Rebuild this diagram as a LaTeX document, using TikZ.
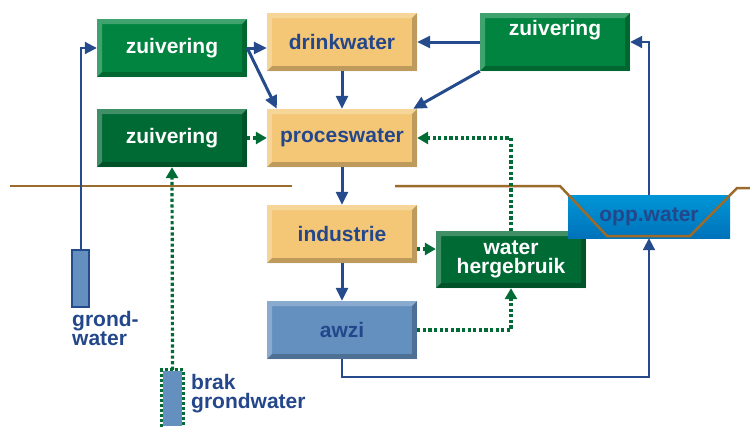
\documentclass[tikz,border=0pt]{standalone}
\usepackage{fontspec}
\setmainfont{Liberation Sans}
\usetikzlibrary{arrows.meta,calc}
\definecolor{txtblue}{HTML}{23478A}
\definecolor{lineblue}{HTML}{254B8C}
\definecolor{greenA}{HTML}{00843F}
\definecolor{greenB}{HTML}{006A35}
\definecolor{beige}{HTML}{F4C777}
\definecolor{awziblue}{HTML}{6490C0}
\definecolor{dotgreen}{HTML}{006B35}
\definecolor{soil}{HTML}{9B6B2C}
\definecolor{opptop}{HTML}{0096D6}
\definecolor{oppbot}{HTML}{0072BA}

\begin{document}
\begin{tikzpicture}[x=1pt,y=-1pt,
    bevel/.style={path picture={
        \coordinate (bsw) at (path picture bounding box.south west);
        \coordinate (bne) at (path picture bounding box.north east);
        \coordinate (bnw) at (path picture bounding box.north west);
        \coordinate (bse) at (path picture bounding box.south east);
        \fill[white,opacity=.25] (bsw) -- (bnw) -- (bne) -- ([shift={(-5pt,-5pt)}]bne)
            -- ([shift={(5pt,-5pt)}]bnw) -- ([shift={(5pt,5pt)}]bsw) -- cycle;
        \fill[black,opacity=.22] (bsw) -- (bse) -- (bne) -- ([shift={(-5pt,-5pt)}]bne)
            -- ([shift={(-5pt,5pt)}]bse) -- ([shift={(5pt,5pt)}]bsw) -- cycle;
    }},
    box/.style={minimum width=150pt,minimum height=58pt,inner sep=0pt,align=center,
        font=\bfseries\fontsize{21}{20}\selectfont,bevel},
    greenbox/.style={box,fill=greenA,text=white},
    darkbox/.style={box,fill=greenB,text=white},
    beigebox/.style={box,fill=beige,text=txtblue},
    welltxt/.style={font=\bfseries\fontsize{21}{19}\selectfont,text=txtblue,align=left,inner sep=0pt},
    well/.style={draw=lineblue,line width=2.2pt,fill=awziblue,inner sep=0pt,minimum width=17pt},
    flow/.style={draw=lineblue,line width=3pt,-{Triangle[length=13pt,width=12pt]}},
    thinflow/.style={draw=lineblue,line width=2pt,-{Triangle[length=12pt,width=12pt]}},
    reuseflow/.style={draw=dotgreen,line width=3.2pt,dash pattern=on 3.2pt off 2.4pt,
        -{Triangle[length=11pt,width=12pt]}},
    ground/.style={draw=soil,line width=2.5pt}]

\useasboundingbox (0,0) rectangle (750,426);

% vakken
\node[greenbox] (zuivA) at (172,48) {zuivering};
\node[darkbox] (zuivB) at (172,138) {zuivering};
\node[greenbox] (zuivC) at (555,42) {};
\node[font=\bfseries\fontsize{21}{20}\selectfont,text=white] (zuivCtxt) at (555,30) {zuivering};
\node[beigebox] (drink) at (342,42) {drinkwater};
\node[beigebox] (proces) at (342,138) {proceswater};
\node[beigebox] (ind) at (342,234) {industrie};
\node[box,fill=awziblue,text=txtblue] (awzi) at (342,330) {awzi};
\node[darkbox,minimum height=57pt] (reuse) at (511,259.5) {water\\[-1pt]hergebruik};
\node[minimum width=162pt,minimum height=43pt,inner sep=0pt,
    top color=opptop,bottom color=oppbot,font=\bfseries\fontsize{21}{20}\selectfont,
    text=txtblue] (opp) at (649,216.5) {opp.water};

% bodem
\draw[ground] (10,186) -- (292,186);
\draw[ground] (395,186) -- (560,186) -- (607,236) -- (690,236) -- (737,188) -- (750,188);

% putten
\node[well,minimum height=57pt] (grond) at (80.5,278.5) {};
\node[welltxt,anchor=north west] (grondtxt) at (72,311) {grond-\\water};
\node[well,draw=none,minimum width=19pt,minimum height=55pt] (brak) at (172.5,398.5) {};
\draw[dotgreen,line width=3pt,dash pattern=on 3pt off 2pt] (brak.south west) -- (brak.north west)
    -- (brak.north east) -- (brak.south east);
\node[welltxt,anchor=north west] (braktxt) at (191,374) {brak\\grondwater};

% stromen
\draw[thinflow] (grond.north) |- (zuivA.west);
\draw[flow] (zuivA.east) -- (drink.west|-zuivA.east);
\draw[flow] (zuivA.east) -- ([xshift=10pt]proces.north west);
\draw[flow] (zuivC.west) -- (drink.east);
\draw[flow] (zuivC.south west) -- ([xshift=-4pt]proces.north east);
\draw[flow] (drink.south) -- (proces.north);
\draw[flow] (proces.south) -- (ind.north);
\draw[flow] (ind.south) -- (awzi.north);
\draw[thinflow] (awzi.south) -- ++(0,18) -| (opp.south);
\draw[thinflow] (opp.north) |- (zuivC.east);

% hergebruik
\draw[reuseflow] (zuivB.east) -- (proces.west);
\draw[reuseflow] (brak.north) -- (zuivB.south);
\draw[reuseflow] ([yshift=-15pt]ind.east) -- ([yshift=-15pt]ind.east -| reuse.west);
\draw[reuseflow] (awzi.east) -| (reuse.south);
\draw[reuseflow] (reuse.north) |- (proces.east);
\end{tikzpicture}
\end{document}
